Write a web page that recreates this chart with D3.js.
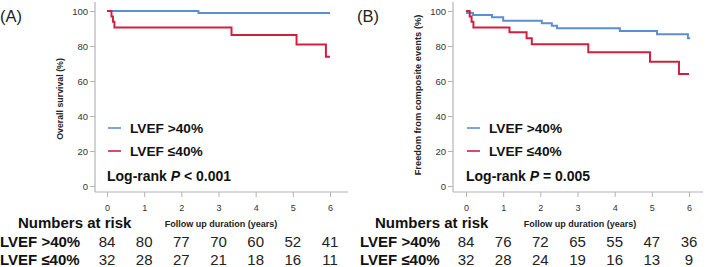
<!DOCTYPE html>
<html><head><meta charset="utf-8">
<script src="https://cdn.jsdelivr.net/npm/d3@7"></script>
<style>
body{margin:0;background:#fff;}
svg{display:block;font-family:"Liberation Sans",Arial,sans-serif;}
</style></head>
<body><svg id="c" width="709" height="267"></svg>
<script>
// ---- data ----
const xTicks = [0, 1, 2, 3, 4, 5, 6];
const yTicks = [0, 20, 40, 60, 80, 100];
const groupLabels = ["LVEF >40%", "LVEF \u226440%"];

const aHighTime = [0, 2.46, 6.0];
const aHighSurv = [100, 98.8, 98.8];
const aLowTime = [0, 0.12, 0.16, 0.2, 3.35, 5.1, 5.89, 6.0];
const aLowSurv = [100, 96.9, 93.8, 90.6, 86.3, 80.9, 73.9, 73.9];

const bHighTime = [0, 0.03, 0.19, 0.70, 1.0, 2.04, 2.31, 2.45, 4.14, 5.14, 5.97, 6.03];
const bHighSurv = [100, 98.8, 97.7, 96.4, 94.5, 93.0, 91.6, 90.1, 88.6, 86.7, 84.4, 84.4];
const bLowTime = [0, 0.1, 0.15, 0.2, 1.17, 1.63, 1.77, 3.29, 4.95, 5.73, 6.0];
const bLowSurv = [100, 96.9, 93.8, 90.6, 87.8, 84.4, 81.0, 76.4, 71.0, 64.0, 64.0];

const aRiskHigh = [84, 80, 77, 70, 60, 52, 41];
const aRiskLow = [32, 28, 27, 21, 18, 16, 11];
const bRiskHigh = [84, 76, 72, 65, 55, 47, 36];
const bRiskLow = [32, 28, 24, 19, 16, 13, 9];

const colors = ["#5b8fd2", "#d0203f"];

const svg = d3.select("#c");

function panel(o) {
  const g = svg.append("g");
  const x = d3.scaleLinear().domain([0, 6]).range([o.x0, o.x6]);
  const y = d3.scaleLinear().domain([0, 100]).range([186, 11]);
  const axisCol = "#b4b4b4";
  g.append("line").attr("x1", o.axX).attr("x2", o.axX).attr("y1", 2).attr("y2", 192)
    .attr("stroke", axisCol).attr("stroke-width", 1.2);
  g.append("line").attr("x1", o.axX).attr("x2", o.axEnd).attr("y1", 192).attr("y2", 192)
    .attr("stroke", axisCol).attr("stroke-width", 1.2);
  const yAx = g.append("g").attr("transform", `translate(${o.axX},0)`)
    .call(d3.axisLeft(y).tickValues(yTicks).tickFormat(d3.format("d")).tickSize(5).tickPadding(2));
  yAx.select(".domain").remove();
  yAx.selectAll("line").attr("stroke", axisCol);
  yAx.selectAll("text").attr("font-size", 9.5).attr("fill", "#333")
    .attr("font-family", "Liberation Sans, Arial, sans-serif");
  const xAx = g.append("g").attr("transform", `translate(0,192)`)
    .call(d3.axisBottom(x).tickValues(xTicks).tickFormat(d3.format("d")).tickSize(5).tickPadding(8));
  xAx.select(".domain").remove();
  xAx.selectAll("line").attr("stroke", axisCol);
  xAx.selectAll("text").attr("font-size", 9).attr("fill", "#333")
    .attr("font-family", "Liberation Sans, Arial, sans-serif");
  g.append("text").attr("transform", `translate(${o.ylabX},${o.ylabY}) rotate(-90)`)
    .attr("text-anchor", "middle").attr("font-weight", "bold").attr("font-size", o.ylabSize)
    .attr("fill", "#222").text(o.ylab);
  g.append("text").attr("x", o.letterX).attr("y", 22).attr("font-size", 16.5).attr("fill", "#222")
    .text(o.letter);
  const line = d3.line().x(d => x(d[0])).y(d => y(d[1])).curve(d3.curveStepAfter);
  [[o.hiT, o.hiS], [o.loT, o.loS]].forEach((s, i) => {
    g.append("path").datum(d3.zip(s[0], s[1])).attr("d", line)
      .attr("fill", "none").attr("stroke", colors[i]).attr("stroke-width", 2);
  });
  [128, 151].forEach((ly, i) => {
    g.append("line").attr("x1", o.legX).attr("x2", o.legX + 13).attr("y1", ly).attr("y2", ly)
      .attr("stroke", colors[i]).attr("stroke-width", 1.6);
    g.append("text").attr("x", o.legX + 22).attr("y", ly + 5).attr("font-size", 13.7)
      .attr("font-weight", "bold").attr("fill", "#111").text(groupLabels[i]);
  });
  const lr = g.append("text").attr("x", o.x0).attr("y", 181).attr("font-size", 14)
    .attr("font-weight", "bold").attr("fill", "#111");
  lr.append("tspan").text("Log-rank ");
  lr.append("tspan").attr("font-style", "italic").text("P");
  lr.append("tspan").text(o.pText);
  g.append("text").attr("x", o.xtitleX).attr("y", 227).attr("text-anchor", "middle")
    .attr("font-size", 9).attr("font-weight", "bold").attr("fill", "#222")
    .text("Follow up duration (years)");
  g.append("text").attr("x", o.narX).attr("y", 228).attr("font-size", 15)
    .attr("font-weight", "bold").attr("fill", "#111").text("Numbers at risk");
  [[o.riskHi, 246.5], [o.riskLo, 264.5]].forEach((r, i) => {
    g.append("text").attr("x", o.rowX).attr("y", r[1]).attr("font-size", 15)
      .attr("font-weight", "bold").attr("fill", "#111").text(groupLabels[i]);
    g.selectAll(null).data(r[0]).enter().append("text")
      .attr("x", (d, j) => x(xTicks[j])).attr("y", r[1]).attr("text-anchor", "middle")
      .attr("font-size", 15).attr("fill", "#222").text(d => d);
  });
}

panel({
  letter: "(A)", letterX: 0, x0: 107, x6: 330, axX: 95, axEnd: 348,
  ylab: "Overall survival (%)", ylabX: 63, ylabY: 99, ylabSize: 8.8,
  hiT: aHighTime, hiS: aHighSurv, loT: aLowTime, loS: aLowSurv,
  legX: 108, pText: " < 0.001", xtitleX: 221, narX: 18, rowX: 0,
  riskHi: aRiskHigh, riskLo: aRiskLow
});
panel({
  letter: "(B)", letterX: 357, x0: 466, x6: 689, axX: 453, axEnd: 703,
  ylab: "Freedom from composite events (%)", ylabX: 421, ylabY: 95, ylabSize: 9.3,
  hiT: bHighTime, hiS: bHighSurv, loT: bLowTime, loS: bLowSurv,
  legX: 467, pText: " = 0.005", xtitleX: 580, narX: 375, rowX: 360,
  riskHi: bRiskHigh, riskLo: bRiskLow
});
</script></body></html>
